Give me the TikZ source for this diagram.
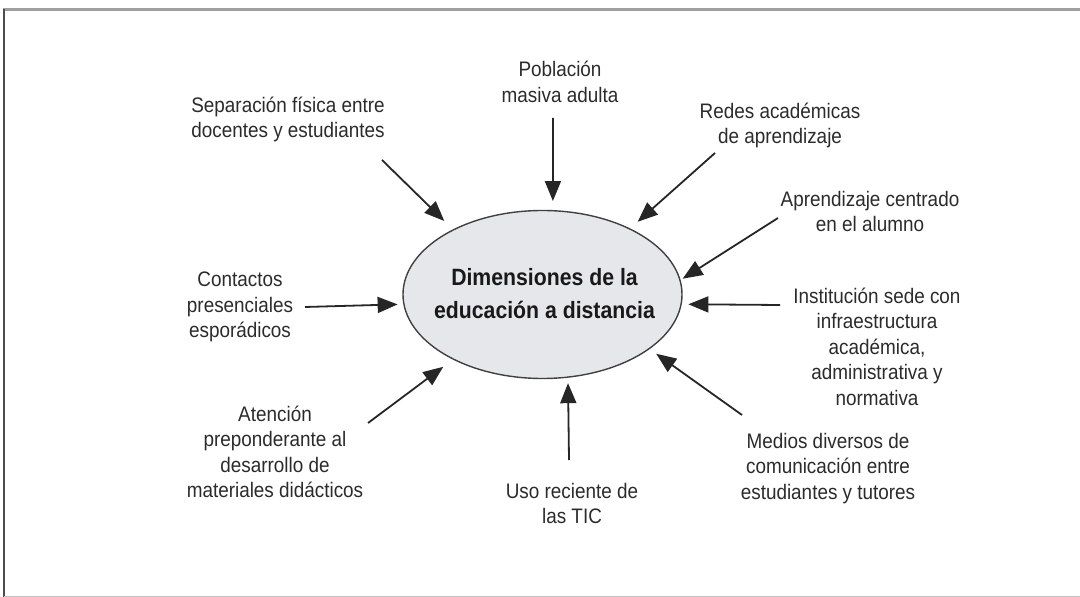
\documentclass[tikz,border=0pt]{standalone}
\usepackage{fontspec}
\newfontfamily\diagfont{Liberation Sans}[FakeStretch=0.9]
\usetikzlibrary{arrows.meta,shapes.geometric}
\definecolor{textgray}{HTML}{2B2B2B}
\definecolor{ovalfill}{HTML}{E6E7EA}
\tikzset{
  etiqueta/.style={font=\diagfont\fontsize{10.5}{12.75}\selectfont, text=textgray, align=center, inner sep=0pt},
  flecha/.style={line width=0.9pt, draw=black!85, -{Triangle[length=10pt,width=8pt]}},
}
\begin{document}
\begin{tikzpicture}[x=0.5pt,y=-0.5pt]
            \useasboundingbox (0,0) rectangle (1080,597);
            % Frame
            \draw[gray!75, line width=1.3pt] (3,9.5) -- (1080,9.5);
            \draw[black!70, line width=0.8pt] (4,9) -- (4,597);
            \draw[gray!50, line width=0.6pt] (4,596.5) -- (1080,596.5);

            % Central ellipse
            \node[ellipse, draw=black!75, line width=0.7pt, fill=ovalfill, minimum width=139.5pt, minimum height=84pt, inner sep=0pt] (dim) at (542.5,294.5) {};
            \node[font=\diagfont\bfseries\fontsize{11.8}{16.5}\selectfont, text=black!90, align=center, inner sep=0pt] (dimtext) at (544.5,293.5) {Dimensiones de la\\educación a distancia};

            % Labels
            \node[etiqueta] (separacion) at (288,119.5) {Separación física entre\\docentes y estudiantes};
            \node[etiqueta] (poblacion) at (560,82) {Población\\masiva adulta};
            \node[etiqueta] (redes) at (780,125.5) {Redes académicas\\de aprendizaje};
            \node[etiqueta] (aprendizaje) at (870,211.5) {Aprendizaje centrado\\en el alumno};
            \node[etiqueta] (institucion) at (877,346.5) {Institución sede con\\infraestructura\\académica,\\administrativa y\\normativa};
            \node[etiqueta] (medios) at (828,468.5) {Medios diversos de\\comunicación entre\\estudiantes y tutores};
            \node[etiqueta] (uso) at (572,503.5) {Uso reciente de\\las TIC};
            \node[etiqueta] (atencion) at (275,452) {Atención\\preponderante al\\desarrollo de\\materiales didácticos};
            \node[etiqueta] (contactos) at (240,307) {Contactos\\presenciales\\esporádicos};

            % Arrow tails
            \coordinate (c1) at (382,160);
            \coordinate (c2) at (553,118);
            \coordinate (c3) at (715,153);
            \coordinate (c4) at (778,218);
            \coordinate (c5) at (780,305);
            \coordinate (c6) at (742,415);
            \coordinate (c7) at (569,460);
            \coordinate (c8) at (368,423);
            \coordinate (c9) at (305,307);

            % Arrows into the ellipse
            \draw[flecha, shorten >=6pt] (c1) -- (dim.144.6);
            \draw[flecha, shorten >=4.5pt] (c2) -- (dim.83.5);
            \draw[flecha, shorten >=5pt] (c3) -- (dim.37.1);
            \draw[flecha, shorten >=1.2pt] (c4) -- (dim.6.7);
            \draw[flecha, shorten >=3.3pt] (c5) -- (dim.-4.1);
            \draw[flecha, shorten >=4pt] (c6) -- (dim.-27.5);
            \draw[flecha, shorten >=2.7pt] (c7) -- (dim.-73.2);
            \draw[flecha, shorten >=6pt] (c8) -- (dim.216.6);
            \draw[flecha, shorten >=2.8pt] (c9) -- (dim.184.5);
\end{tikzpicture}
\end{document}
